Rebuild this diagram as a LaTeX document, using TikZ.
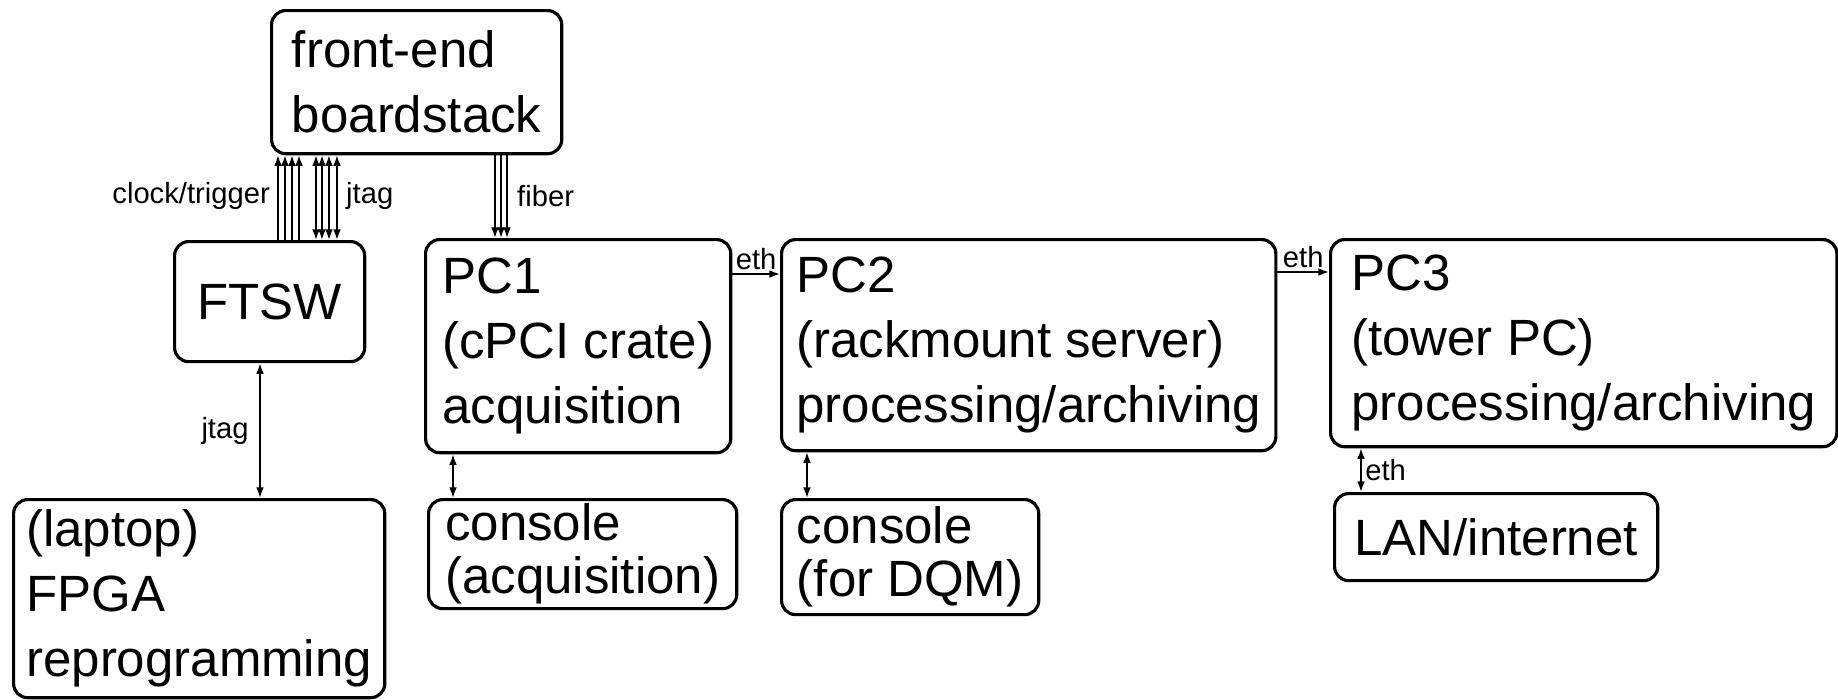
\documentclass[tikz,border=0pt]{standalone}
\usepackage{fontspec}
\setmainfont{Liberation Sans}
\usetikzlibrary{arrows.meta}

\tikzset{
  blk/.style={draw, line width=0.9pt, rounded corners=4pt, anchor=north west,
    align=left, inner sep=0pt, font=\fontsize{14.5}{18.5}\selectfont},
  conblk/.style={blk, font=\fontsize{14.5}{15}\selectfont},
  lnk/.style={line width=0.5pt},
  tag/.style={font=\fontsize{8.3}{10}\selectfont, inner sep=1pt},
}

\begin{document}
\begin{tikzpicture}[x=0.01cm, y=-0.01cm, >={Latex[length=3pt,width=2.2pt]}]
\useasboundingbox (0,0) rectangle (1838,699);
%% ── Boxes ────────────────────────────────────────────────────────────────
\node[blk, minimum width=2.90cm, minimum height=1.43cm] (fe) at (270,9)
    {front-end\\boardstack};
\node[blk, minimum width=1.90cm, minimum height=1.20cm] (ftsw) at (173,240)
    {FTSW};
\node[blk, minimum width=3.05cm, minimum height=2.13cm] (pc1) at (424,238)
    {PC1\\(cPCI crate)\\acquisition};
\node[blk, minimum width=4.94cm, minimum height=2.11cm] (pc2) at (780,238)
    {PC2\\(rackmount server)\\processing/archiving};
\node[blk, minimum width=5.06cm, minimum height=2.07cm] (pc3) at (1329,238)
    {PC3\\(tower PC)\\processing/archiving};
\node[blk, minimum width=3.71cm, minimum height=1.98cm] (lap) at (12,498)
    {(laptop)\\FPGA\\reprogramming};
\node[conblk, minimum width=3.08cm, minimum height=1.09cm] (con1) at (427,498)
    {console\\(acquisition)};
\node[conblk, minimum width=2.57cm, minimum height=1.15cm] (con2) at (780,498)
    {console\\(for DQM)};
\node[blk, minimum width=3.23cm, minimum height=0.87cm] (lan) at (1333,492)
    {LAN/internet};
%% ── Bundles below the boardstack ─────────────────────────────────────────
\foreach \x in {278,285,292,299}
  \draw[lnk, ->] (\x,0 |- ftsw.north) -- (\x,0 |- fe.south);
\foreach \x in {316,322,329,337}
  \draw[lnk, <->] (\x,0 |- ftsw.north) -- (\x,0 |- fe.south);
\foreach \x in {495,501,507}
  \draw[lnk, ->] (\x,0 |- fe.south) -- (\x,0 |- pc1.north);
\node[tag, anchor=east] (lclk) at (274,196) {clock/trigger};
\node[tag, anchor=west] (ljtag) at (342,196) {jtag};
\node[tag, anchor=west] (lfib) at (513,196) {fiber};
%% ── Single links ─────────────────────────────────────────────────────────
\draw[lnk, <->] (260,0 |- ftsw.south) -- (260,0 |- lap.north)
    node[tag, midway, left=2pt] {jtag};
\draw[lnk, ->] (pc1.east |- 0,274) -- (pc2.west |- 0,274)
    node[tag, midway, above] {eth};
\draw[lnk, ->] (pc2.east |- 0,272) -- (pc3.west |- 0,272)
    node[tag, midway, above] {eth};
\draw[lnk, <->] (453,0 |- pc1.south) -- (453,0 |- con1.north);
\draw[lnk, <->] (807,0 |- pc2.south) -- (807,0 |- con2.north);
\draw[lnk, <->] (1361,0 |- pc3.south) -- (1361,0 |- lan.north)
    node[tag, midway, right] {eth};
\end{tikzpicture}
\end{document}
